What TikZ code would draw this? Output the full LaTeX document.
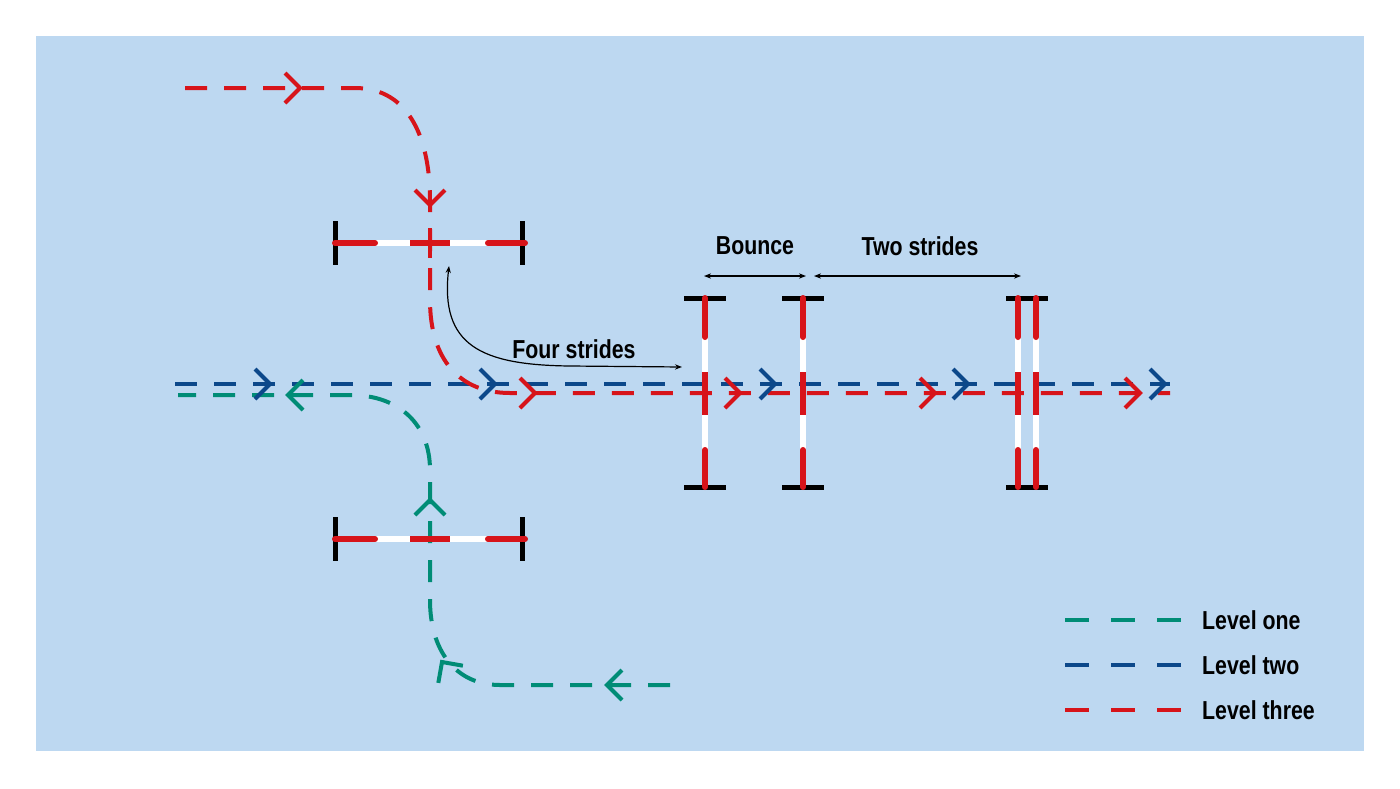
\documentclass[tikz,border=0pt]{standalone}
\usepackage{fontspec}
\setmainfont{Liberation Sans}[FakeStretch=0.82]
\usetikzlibrary{arrows.meta}
\definecolor{bg}{RGB}{189,216,241}
\definecolor{rd}{RGB}{215,20,26}
\definecolor{bl}{RGB}{12,72,138}
\definecolor{gr}{RGB}{0,140,118}
\begin{document}
\begin{tikzpicture}[x=1pt,y=-1pt,
  path/.style={line width=4pt,dash pattern=on 22pt off 17pt},
  chev/.pic={\draw[line width=4pt,pic actions] (-15,-15) -- (0,0) -- (-15,15);},
  pole/.style={line width=6pt},
  post/.style={line width=5pt,black},
  lbl/.style={font=\fontsize{26}{30}\selectfont\bfseries,inner sep=0pt},
  meas/.style={line width=1.2pt,{Stealth[length=7pt]}-{Stealth[length=7pt]}}]
\useasboundingbox (0,0) rectangle (1400,788);
\fill[bg] (36,36) rectangle (1364,751);
% coordinates
\coordinate (r0) at (185,88); \coordinate (r1) at (355,88);
\coordinate (r2) at (430,200); \coordinate (r3) at (430,300);
\coordinate (r4) at (510,393); \coordinate (r5) at (1170,393);
\coordinate (b0) at (175,384); \coordinate (b1) at (1170,384);
\coordinate (g0) at (670,685); \coordinate (g1) at (500,685);
\coordinate (g2) at (430,600); \coordinate (g3) at (430,470);
\coordinate (g4) at (350,395); \coordinate (g5) at (178,395);
% paths
\draw[path,bl] (b0) -- (b1);
\draw[path,gr] (g0) -- (g1) .. controls (455,685) and (430,650) .. (g2) -- (g3) .. controls (430,425) and (400,395) .. (g4) -- (g5);
\draw[path,rd] (r0) -- (r1) .. controls (410,88) and (430,140) .. (r2) -- (r3) .. controls (430,360) and (460,393) .. (r4) -- (r5);
% chevrons
\foreach \x in {270,495,775,968,1165} \pic[bl] at (\x,384) {chev};
\foreach \x in {535,740,935,1140} \pic[rd] at (\x,393) {chev};
\pic[rd] at (300,88) {chev};
\pic[rd,rotate=-90] at (430,205) {chev};
\pic[gr,rotate=180] at (288,395) {chev};
\pic[gr,rotate=180] at (607,685) {chev};
\pic[gr,rotate=90] at (430,500) {chev};
\pic[gr,rotate=125] at (442,662) {chev};
% horizontal fences
\foreach \y/\n in {243/ft,539/fb}{
  \draw[post] (335,\y-22) -- (335,\y+22);
  \draw[post] (522,\y-22) -- (522,\y+22);
  \draw[pole,white] (335,\y) -- (525,\y);
  \draw[pole,rd,line cap=round] (335,\y) -- (375,\y);
  \draw[pole,rd] (410,\y) -- (450,\y);
  \draw[pole,rd,line cap=round] (488,\y) -- (525,\y);
}
\draw[line width=4pt,rd] (430,228) -- (430,258);
% vertical fences
\foreach \x/\a/\b in {705/684/726,803/782/824,1027/1006/1048}{
  \draw[post] (\a,298) -- (\b,298);
  \draw[post] (\a,487) -- (\b,487);
}
\foreach \x in {705,803,1018,1036}{
  \draw[pole,white] (\x,298) -- (\x,487);
  \draw[pole,rd,line cap=round] (\x,298) -- (\x,337);
  \draw[pole,rd] (\x,372) -- (\x,415);
  \draw[pole,rd,line cap=round] (\x,450) -- (\x,487);
}
% measurements
\node[lbl] (bounce) at (755,246) {Bounce};
\node[lbl] (two) at (920,246) {Two strides};
\node[lbl] (four) at (574,349) {Four strides};
\coordinate (m0) at (704,276); \coordinate (m1) at (806,276);
\coordinate (m2) at (814,276); \coordinate (m3) at (1021,276);
\draw[meas] (m0) -- (m1);
\draw[meas] (m2) -- (m3);
\coordinate (fa) at (449,266); \coordinate (fb) at (682,367);
\draw[meas] (fa) .. controls (440,345) and (480,365) .. (570,366) -- (fb);
% legend
\foreach \y/\c/\t/\n in {620/gr/Level one/l1,665/bl/Level two/l2,710/rd/Level three/l3}{
  \coordinate (\n a) at (1065,\y); \coordinate (\n b) at (1182,\y);
  \draw[path,\c,dash pattern=on 24pt off 22pt] (\n a) -- (\n b);
  \node[lbl,anchor=west] (\n) at (1202,\y) {\t};
}
\end{tikzpicture}
\end{document}
